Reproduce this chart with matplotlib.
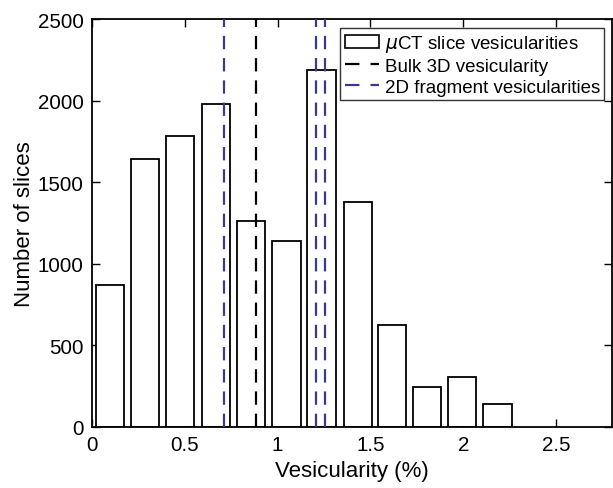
import matplotlib.pyplot as plt
from matplotlib.patches import Rectangle
from matplotlib.lines import Line2D

# histogram of per-slice vesicularity (bin centres and counts)
bin_centres = [0.097, 0.285, 0.475, 0.667, 0.857, 1.048, 1.237, 1.432, 1.617, 1.806, 1.994, 2.185]
slice_counts = [872, 1640, 1785, 1979, 1260, 1142, 2187, 1377, 625, 243, 308, 141]

bulk_3d = 0.884
fragments_2d = [0.710, 1.207, 1.258]

bar_width = 0.152
navy = '#3a3a8c'

plt.rcParams['font.family'] = ['Liberation Sans', 'DejaVu Sans']
plt.rcParams['mathtext.fontset'] = 'dejavusans'

fig = plt.figure(figsize=(6.13, 4.89), dpi=100)
ax = fig.add_axes([0.150, 0.125, 0.848, 0.834])

ax.bar(bin_centres, slice_counts, width=bar_width, facecolor='white',
       edgecolor='black', linewidth=1.3, zorder=2)

ax.axvline(bulk_3d, color='black', linestyle=(0, (6, 4)), linewidth=1.6, zorder=3)
for v in fragments_2d:
    ax.axvline(v, color=navy, linestyle=(0, (6, 4)), linewidth=1.6, zorder=3)

ax.set_xlim(0, 2.8)
ax.set_ylim(0, 2500)
ax.set_xticks([0, 0.5, 1, 1.5, 2, 2.5])
ax.set_xticklabels(['0', '0.5', '1', '1.5', '2', '2.5'])
ax.set_yticks([0, 500, 1000, 1500, 2000, 2500])
ax.tick_params(direction='in', length=6, width=1, top=True, right=True,
               labelsize=14.8, pad=6)
for sp in ax.spines.values():
    sp.set_linewidth(1.3)

ax.set_xlabel('Vesicularity (%)', fontsize=16, labelpad=4)
ax.set_ylabel('Number of slices', fontsize=16, labelpad=2)

# two-dash legend keys, like the plot lines
handles = [
    Rectangle((0, 0), 1, 1, facecolor='white', edgecolor='black', linewidth=1.2),
    Line2D([], [], color='black', linestyle=(0, (6.5, 5)), linewidth=1.6),
    Line2D([], [], color=navy, linestyle=(0, (6.5, 5)), linewidth=1.6),
]
labels = [r'$\mu$CT slice vesicularities', 'Bulk 3D vesicularity',
          '2D fragment vesicularities']
leg = ax.legend(handles, labels, loc='upper right', bbox_to_anchor=(0.986, 0.977),
                fontsize=13.5, frameon=True, fancybox=False, borderpad=0.25,
                handlelength=1.8, handleheight=0.65, handletextpad=0.3,
                labelspacing=0.2, borderaxespad=0)
leg.get_frame().set_edgecolor('black')
leg.get_frame().set_linewidth(1.0)

fig.savefig('out.png', dpi=100)
